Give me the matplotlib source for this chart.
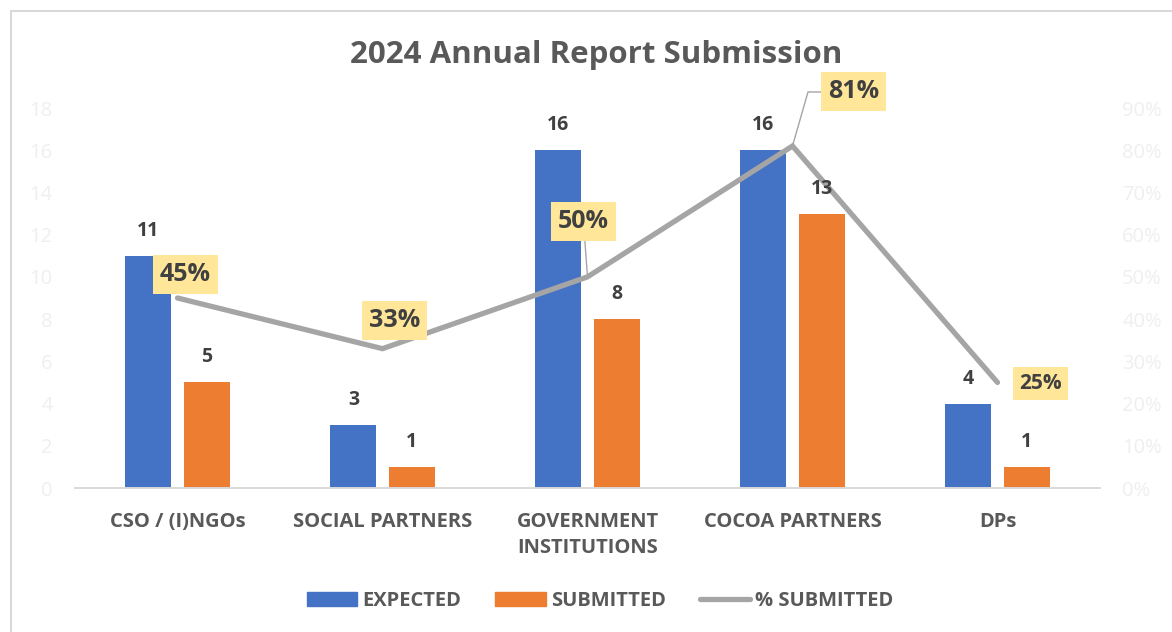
import matplotlib
matplotlib.use("Agg")
import matplotlib.pyplot as plt
import matplotlib.patches as mpatches
from matplotlib.lines import Line2D
from matplotlib.ticker import FuncFormatter, MultipleLocator
import numpy as np

plt.rcParams['font.family'] = ['Open Sans', 'DejaVu Sans']

categories = ["CSO / (I)NGOs", "SOCIAL PARTNERS", "GOVERNMENT\nINSTITUTIONS", "COCOA PARTNERS", "DPs"]
expected = [11, 3, 16, 16, 4]
submitted = [5, 1, 8, 13, 1]
pct_submitted = [45, 33, 50, 81, 25]
pct_labels = ["45%", "33%", "50%", "81%", "25%"]

BLUE = "#4472C4"
ORANGE = "#ED7D31"
GREY = "#A5A5A5"
YELLOW = "#FFE699"
DARK = "#404040"
MID = "#595959"

W, H = 1172, 632
fig = plt.figure(figsize=(W / 100, H / 100), dpi=100)
ax = fig.add_axes([75 / W, 1 - 488 / H, (1100 - 75) / W, (488 - 108) / H])
ax2 = ax.twinx()

x = np.arange(len(categories))
bw = 0.224
off = 0.142
b1 = ax.bar(x - off, expected, bw, color=BLUE, label="EXPECTED", zorder=2)
b2 = ax.bar(x + off, submitted, bw, color=ORANGE, label="SUBMITTED", zorder=2)

ax.set_xlim(-0.5, 4.5)
ax.set_ylim(0, 18)
ax.yaxis.set_major_locator(MultipleLocator(2))
ax2.set_ylim(0, 90)
ax2.yaxis.set_major_locator(MultipleLocator(10))
ax2.yaxis.set_major_formatter(FuncFormatter(lambda v, p: f"{int(v)}%"))

# bar value labels drawn on top axes so they sit above the line
for bars, vals in ((b1, expected), (b2, submitted)):
    for r, v in zip(bars, vals):
        ax2.annotate(str(v), (r.get_x() + r.get_width() / 2, v * 5), xytext=(0, 18),
                     textcoords="offset points", ha="center", va="center",
                     fontsize=14, fontweight="bold", color=DARK, zorder=6)

ax.set_xticks(x)
ax.set_xticklabels(categories, fontsize=14.5, fontweight="bold", color=MID, linespacing=1.45)
ax.tick_params(axis="x", length=0, pad=17)
ax.tick_params(axis="y", length=0, pad=16, labelsize=14.5, labelcolor="#EFEFEF")
ax2.tick_params(axis="y", length=0, pad=16, labelsize=14.5, labelcolor="#EFEFEF")

for a in (ax, ax2):
    for s in ("top", "left", "right"):
        a.spines[s].set_visible(False)
    a.spines["bottom"].set_color("#D9D9D9")
    a.spines["bottom"].set_linewidth(1.2)

ax2.plot(x, pct_submitted, color=GREY, lw=3.8, solid_capstyle="round",
         solid_joinstyle="miter", zorder=3, label="% SUBMITTED")

# label offsets (points) relative to line points
offsets = [(5.8, 16.6), (8.6, 20.0), (-2.9, 39.6), (44.0, 38.9), (31.0, -0.7)]
sizes = [18, 18, 18, 18, 15]
leaders = [None, None, "arc3,rad=0", "angle,angleA=0,angleB=74,rad=0", None]
for xi, v, lab, o, s, ld in zip(x, pct_submitted, pct_labels, offsets, sizes, leaders):
    kw = {}
    if ld is not None:
        kw["arrowprops"] = dict(arrowstyle="-", color=GREY, lw=1.0,
                                connectionstyle=ld, shrinkA=0, shrinkB=0)
    ax2.annotate(lab, (xi, v), xytext=o, textcoords="offset points",
                 ha="center", va="center", fontsize=s, fontweight="bold", color=DARK,
                 bbox=dict(boxstyle="square,pad=0.28", fc=YELLOW, ec="none"),
                 zorder=5, **kw)

ax.set_zorder(1)
ax2.set_zorder(2)
ax2.patch.set_visible(False)

fig.text(596 / W, 1 - 55 / H, "2024 Annual Report Submission", ha="center", va="center",
         fontsize=22.5, fontweight="bold", color=MID)

handles = [mpatches.Patch(color=BLUE), mpatches.Patch(color=ORANGE),
           Line2D([0], [0], color=GREY, lw=3.8, solid_capstyle="round")]
fig.legend(handles, ["EXPECTED", "SUBMITTED", "% SUBMITTED"], loc="center",
           bbox_to_anchor=(600 / W, 1 - 601 / H), ncol=3, frameon=False,
           prop=dict(size=14.5, weight="bold"), labelcolor=MID,
           handlelength=2.5, handletextpad=0.25, columnspacing=1.7)

fig.patches.append(mpatches.Rectangle((11 / W, -0.1), 2, 1 - 11 / H + 0.1,
                                      transform=fig.transFigure, fill=False,
                                      ec="#D9D9D9", lw=1.5))

fig.savefig("out.png", dpi=100)
